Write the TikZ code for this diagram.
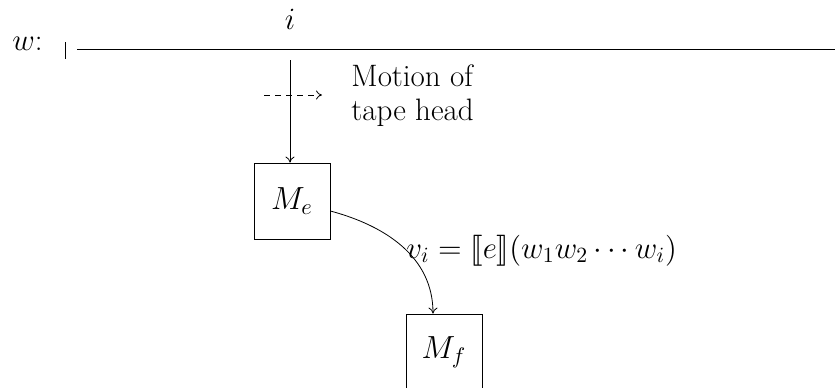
\documentclass[tikz,border=0pt]{standalone}
\usepackage{anyfontsize}
\usepackage{stmaryrd}
\usetikzlibrary{arrows.meta}
\begin{document}
\begin{tikzpicture}[x=0.5pt,y=-0.5pt,
  every node/.style={font=\fontsize{15.5}{17}\selectfont},
  box/.style={draw, minimum width=38pt, minimum height=38pt, inner sep=0pt, font=\fontsize{16}{19}\selectfont},
  arr/.style={-{To[length=3pt,width=4.5pt]}},
  dsh/.style={dash pattern=on 3pt off 2.5pt}]
\useasboundingbox (0,0) rectangle (835,387);
% tape
\node[anchor=base west, inner sep=0pt] (w) at (12,50) {$w$:};
\coordinate (tickT) at (65,42);
\coordinate (tickB) at (65,59);
\draw (tickT) -- (tickB);
\coordinate (tapeL) at (77,49);
\coordinate (tapeR) at (835,49);
\draw (tapeL) -- (tapeR);
\node[anchor=base, inner sep=0pt] (i) at (290,29) {$i$};
% head
\coordinate (headT) at (290,60);
\node[box] (Me) at (292,201) {$M_e$};
\draw[arr] (headT) -- (headT |- Me.north);
\coordinate (dashL) at (264,95);
\coordinate (dashR) at (322,95);
\draw[arr,dsh] (dashL) -- (dashR);
\node[anchor=base west, inner sep=0pt, align=left] (motion) at (351,120) {Motion of\\tape head};
% second machine
\node[box] (Mf) at (444,352) {$M_f$};
\draw[arr] ([yshift=-5pt]Me.east) to[out=-15,in=90] ([xshift=-5.5pt]Mf.north);
\node[anchor=base west, inner sep=0pt] (lab) at (406,258) {$v_i = \llbracket e\rrbracket(w_1w_2\cdots w_i)$};
\end{tikzpicture}
\end{document}
